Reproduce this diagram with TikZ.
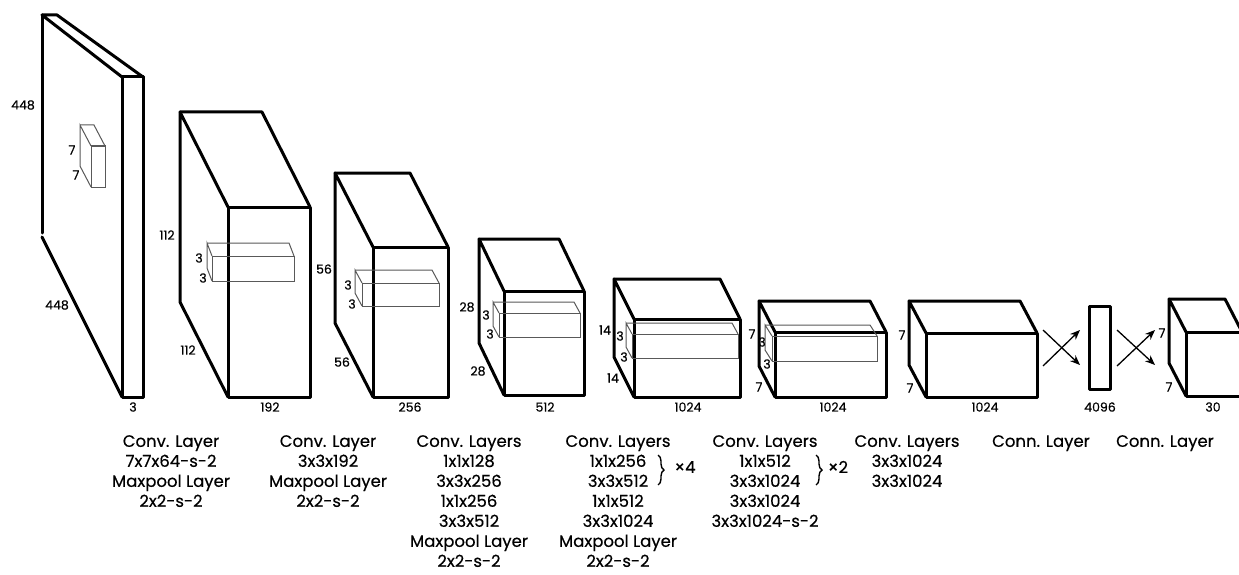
\documentclass[tikz,border=0pt]{standalone}
\usepackage{fontspec}
\setmainfont{Poppins}[FakeBold=0.4]
\usetikzlibrary{arrows.meta,decorations.pathreplacing}

\tikzset{
	layer/.style={line width=3pt, line cap=round, line join=round},
	kernel/.style={line width=1pt, draw=black!65},
	dimtext/.style={font=\fontsize{12.5}{13}\selectfont, inner sep=0pt},
	captext/.style={font=\fontsize{16.5}{20}\selectfont, align=center, anchor=north, inner sep=0pt},
	fcarrow/.style={line width=1.3pt, -{Stealth[length=10pt,width=8pt]}},
	repbrace/.style={line width=1.4pt, decorate, decoration={brace,amplitude=6pt}},
}

% cuboid: style, back top left (x,y), depth offset (dx,dy), width, height
\newcommand{\cuboid}[7]{%
	\draw[#1] (#2,#3) -- ({#2+#6},#3) -- ({#2+#6+#4},{#3+#5});
	\draw[#1] ({#2+#4},{#3+#5}) -- (#2,#3) -- (#2,{#3+#7}) -- ({#2+#4},{#3+#5+#7});
	\draw[#1] ({#2+#4},{#3+#5}) rectangle ({#2+#4+#6},{#3+#5+#7});
}

\begin{document}
\begin{tikzpicture}[x=1pt,y=-1pt]
	\useasboundingbox (0,0) rectangle (1239,575);
	\fill[white] (0,0) rectangle (1239,575);
	\clip (0,0) rectangle (1239,575);

	% input image
	\draw[layer] (122,77) -- (42,15) -- (57,15) -- (143,77);
	\draw[layer] (42,15) -- (42,233);
	\draw[layer] (42,237) -- (122,397);
	\draw[layer] (122,77) rectangle (143,397);
	\cuboid{kernel}{80}{125}{11}{21}{14}{41}

	% conv blocks
	\cuboid{layer}{180}{112}{48}{95}{82}{190}
	\cuboid{kernel}{207}{243}{5}{13}{82}{25}
	\cuboid{layer}{335}{173}{38}{74}{75}{150}
	\cuboid{kernel}{355}{270}{7}{13}{77}{23}
	\cuboid{layer}{479}{239}{25}{52}{80}{104}
	\cuboid{kernel}{493}{302}{6}{11}{81}{24}
	\cuboid{layer}{614}{279}{20}{40}{106}{78}
	\cuboid{kernel}{626}{323}{6}{11}{106}{24}
	\cuboid{layer}{759}{301}{16}{31}{111}{65}
	\cuboid{kernel}{765}{325}{7}{11}{105}{25}
	\cuboid{layer}{909}{301}{17}{32}{111}{64}

	% fully connected
	\draw[layer] (1089,306) rectangle (1110,389);
	\cuboid{layer}{1169}{299}{17}{33}{56}{64}

	\coordinate (fc1a) at (1043,330);
	\coordinate (fc1b) at (1080,365);
	\coordinate (fc1c) at (1043,366);
	\coordinate (fc1d) at (1080,330);
	\coordinate (fc2a) at (1117,330);
	\coordinate (fc2b) at (1155,365);
	\coordinate (fc2c) at (1117,366);
	\coordinate (fc2d) at (1155,330);
	\draw[fcarrow] (fc1a) -- (fc1b);
	\draw[fcarrow] (fc1c) -- (fc1d);
	\draw[fcarrow] (fc2a) -- (fc2b);
	\draw[fcarrow] (fc2c) -- (fc2d);

	% sizes
	\begin{scope}[every node/.style={dimtext}]
	\node (in448a) at (23,105) {448};
	\node (in448b) at (57,305) {448};
	\node (in3) at (133,407) {3};
	\node (k7a) at (72,150) {7};
	\node (k7b) at (76,175) {7};
	\node (c112a) at (167,235) {112};
	\node (c112b) at (188,350) {112};
	\node (c192) at (270,407) {192};
	\node (k3a) at (199,258) {3};
	\node (k3b) at (203,278) {3};
	\node (c56a) at (324,269) {56};
	\node (c56b) at (342,362) {56};
	\node (c256) at (410,407) {256};
	\node (k3c) at (348,285) {3};
	\node (k3d) at (352,304) {3};
	\node (c28a) at (467,307) {28};
	\node (c28b) at (478,371) {28};
	\node (c512) at (545,407) {512};
	\node (k3e) at (486,315) {3};
	\node (k3f) at (490,334) {3};
	\node (c14a) at (605,330) {14};
	\node (c14b) at (613,378) {14};
	\node (c1024a) at (688,407) {1024};
	\node (k3g) at (620,336) {3};
	\node (k3h) at (624,357) {3};
	\node (c7a) at (752,334) {7};
	\node (c7b) at (759,387) {7};
	\node (c1024b) at (833,407) {1024};
	\node (k3i) at (762,342) {3};
	\node (k3j) at (767,364) {3};
	\node (c7c) at (902,335) {7};
	\node (c7d) at (910,388) {7};
	\node (c1024c) at (985,407) {1024};
	\node (fc4096) at (1100,407) {4096};
	\node (out7a) at (1162,333) {7};
	\node (out7b) at (1169,387) {7};
	\node (out30) at (1213,407) {30};
	\end{scope}

	% layer descriptions
	\begin{scope}[every node/.style={captext}]
	\node (desc1) at (171,435) {Conv. Layer\\7x7x64-s-2\\Maxpool Layer\\2x2-s-2};
	\node (desc2) at (328,435) {Conv. Layer\\3x3x192\\Maxpool Layer\\2x2-s-2};
	\node (desc3) at (469,435) {Conv. Layers\\1x1x128\\3x3x256\\1x1x256\\3x3x512\\Maxpool Layer\\2x2-s-2};
	\node (desc4) at (618,435) {Conv. Layers\\1x1x256\\3x3x512\\1x1x512\\3x3x1024\\Maxpool Layer\\2x2-s-2};
	\node (desc5) at (765,435) {Conv. Layers\\1x1x512\\3x3x1024\\3x3x1024\\3x3x1024-s-2};
	\node (desc6) at (907,435) {Conv. Layers\\3x3x1024\\3x3x1024};
	\node (desc7) at (1041,435) {Conn. Layer};
	\node (desc8) at (1165,435) {Conn. Layer};
	\end{scope}

	\coordinate (rep4top) at (658,455);
	\coordinate (rep4bot) at (658,485);
	\coordinate (rep2top) at (816,455);
	\coordinate (rep2bot) at (816,485);
	\draw[repbrace] (rep4top) -- (rep4bot);
	\draw[repbrace] (rep2top) -- (rep2bot);
	\node[captext, anchor=center] (times4) at (685,467) {×4};
	\node[captext, anchor=center] (times2) at (838,467) {×2};
\end{tikzpicture}
\end{document}
